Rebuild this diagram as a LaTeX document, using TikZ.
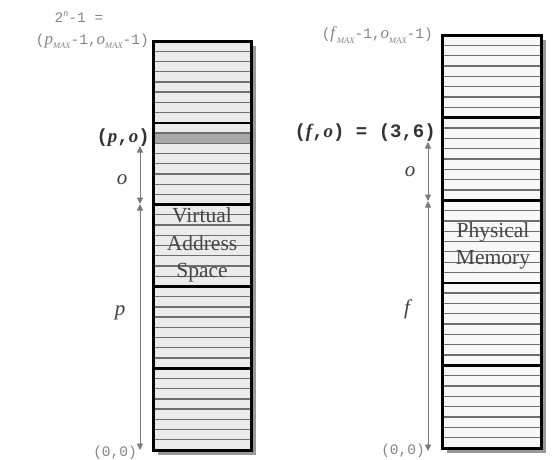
\documentclass[tikz,border=0pt]{standalone}
\usepackage{fontspec}
\setmainfont{Liberation Serif}
\setmonofont{Liberation Mono}
\usetikzlibrary{arrows.meta}
\definecolor{lfill}{HTML}{EBEBEB}
\definecolor{rfill}{HTML}{F8F8F8}
\definecolor{shadowc}{HTML}{999999}
\definecolor{stripec}{HTML}{6E6E6E}
\definecolor{markc}{HTML}{A8A8A8}
\definecolor{labc}{HTML}{858585}
\definecolor{dimc}{HTML}{7A7A7A}
\definecolor{boxtextc}{HTML}{454545}
\begin{document}
\begin{tikzpicture}[x=1pt,y=-1pt,
  stripe/.style={draw=stripec,line width=1.3pt},
  divider/.style={draw=black,line width=2.6pt},
  boxframe/.style={draw=black,line width=3pt},
  dimline/.style={draw=dimc,line width=0.8pt,{Triangle[length=6.5pt,width=6pt]}-{Triangle[length=6.5pt,width=6pt]}},
  monolab/.style={text=labc,font=\ttfamily\fontsize{14.5}{16}\selectfont,inner sep=0pt},
  boldlab/.style={text=black!80,font=\ttfamily\bfseries\fontsize{19}{21}\selectfont,inner sep=0pt},
  varlab/.style={text=black!75,font=\itshape\fontsize{21}{22}\selectfont,inner sep=0pt},
  boxtext/.style={text=boxtextc,font=\fontsize{21.5}{27.5}\selectfont,align=center,inner sep=0pt}]
\useasboundingbox (0,0) rectangle (556,459);
% ---------- left box (virtual address space)
\fill[shadowc] (158,46) rectangle (256,455);
\fill[lfill] (153,41) rectangle (251,450);
\fill[markc] (153,133.05) rectangle (251,143.3);
\foreach \i in {1,...,39} \draw[stripe] (153,41+\i*10.225) -- ++(98,0);
\foreach \i in {1,...,4} \draw[divider] (153,41+\i*81.8) -- ++(98,0);
\draw[boxframe] (153,41) rectangle (251,450);
\node[boxtext] (vas) at (202,245) {Virtual\\Address\\Space};
% ---------- right box (physical memory)
\fill[shadowc] (447,40) rectangle (546,453);
\fill[rfill] (442,35) rectangle (541,448);
\foreach \i in {1,...,39} \draw[stripe] (442,35+\i*10.325) -- ++(99,0);
\foreach \i in {1,...,4} \draw[divider] (442,35+\i*82.6) -- ++(99,0);
\draw[boxframe] (442,35) rectangle (541,448);
\node[boxtext] (pm) at (493,246) {Physical\\Memory};
% ---------- dimension arrows, left
\coordinate (lt) at (140,146);
\coordinate (lm) at (140,204);
\coordinate (lb) at (140,450);
\draw[dimline] (lt) -- (lm);
\draw[dimline] (lm) -- (lb);
\node[varlab] (lo) at (122,180) {o};
\node[varlab] (lp) at (120,313) {p};
% ---------- dimension arrows, right
\coordinate (rt) at (428,142);
\coordinate (rm) at (428,201);
\coordinate (rb) at (428,451);
\draw[dimline] (rt) -- (rm);
\draw[dimline] (rm) -- (rb);
\node[varlab] (ro) at (410,172) {o};
\node[varlab] (rf) at (407,309) {f};
% ---------- labels
\node[monolab,anchor=center] (pow) at (79,17) {2\raisebox{0.45em}{\rmfamily\itshape\fontsize{10}{10}\selectfont n}-1 =};
\node[monolab,anchor=east] (pmax) at (149,41) {(\textrm{\itshape\fontsize{17}{17}\selectfont p}\raisebox{-0.3em}{\rmfamily\itshape\fontsize{8.5}{8.5}\selectfont MAX}-1,\textrm{\itshape\fontsize{17}{17}\selectfont o}\raisebox{-0.3em}{\rmfamily\itshape\fontsize{8.5}{8.5}\selectfont MAX}-1)};
\node[boldlab,anchor=east] (po) at (150,138) {(\textrm{\bfseries\itshape p},\textrm{\bfseries\itshape o})};
\node[monolab,anchor=east] (lzero) at (137,453) {(0,0)};
\node[monolab,anchor=east] (fmax) at (433,35) {(\textrm{\itshape\fontsize{17}{17}\selectfont f}\raisebox{-0.3em}{\rmfamily\itshape\fontsize{8.5}{8.5}\selectfont MAX}-1,\textrm{\itshape\fontsize{17}{17}\selectfont o}\raisebox{-0.3em}{\rmfamily\itshape\fontsize{8.5}{8.5}\selectfont MAX}-1)};
\node[boldlab,anchor=east] (fo) at (436,133) {(\textrm{\bfseries\itshape f},\textrm{\bfseries\itshape o}) = (3,6)};
\node[monolab,anchor=east] (rzero) at (425,451) {(0,0)};
\end{tikzpicture}
\end{document}
